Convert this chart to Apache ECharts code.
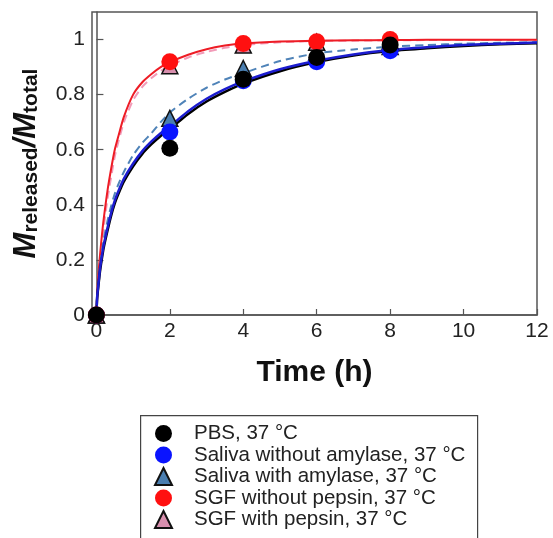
<!DOCTYPE html>
<html>
<head>
<meta charset="utf-8">
<script src="https://cdn.jsdelivr.net/npm/echarts@6/dist/echarts.min.js"></script>
<style>html,body{margin:0;padding:0;background:#fff}#c{width:553px;height:538px}</style>
</head>
<body>
<div id="c"></div>
<script>
// Measured points (time in h, fraction released)
var sampleT = [0, 2, 4, 6, 8];
var pbsPts = [0, 0.605, 0.856, 0.935, 0.98];
var salivaNoAmyPts = [0, 0.664, 0.85, 0.919, 0.959];
var salivaAmyPts = [0, 0.714, 0.895, 0.955, 0.975];
var sgfNoPepPts = [0, 0.919, 0.986, 0.992, 1.0];
var sgfPepPts = [0, 0.905, 0.98, 0.99, 0.995];

// Fitted curves
var curveT = [0, 0.02, 0.05, 0.1, 0.15, 0.2, 0.3, 0.4, 0.5, 0.6, 0.75, 1, 1.25, 1.5, 1.75, 2, 2.5, 3, 3.5, 4, 5, 6, 7, 8, 9, 10, 11, 12];
var pbsCurve = [0, 0.06, 0.10, 0.16, 0.205, 0.245, 0.305, 0.36, 0.405, 0.44, 0.485, 0.54, 0.585, 0.62, 0.65, 0.675, 0.73, 0.775, 0.81, 0.84, 0.885, 0.918, 0.942, 0.958, 0.968, 0.977, 0.983, 0.987];
var salivaNoAmyCurve = [0, 0.065, 0.105, 0.17, 0.215, 0.255, 0.315, 0.37, 0.415, 0.45, 0.495, 0.55, 0.595, 0.63, 0.66, 0.685, 0.74, 0.785, 0.82, 0.848, 0.892, 0.923, 0.946, 0.962, 0.972, 0.98, 0.985, 0.989];
var salivaAmyCurve = [0, 0.07, 0.11, 0.18, 0.23, 0.275, 0.34, 0.395, 0.44, 0.475, 0.52, 0.58, 0.625, 0.66, 0.70, 0.735, 0.785, 0.825, 0.855, 0.878, 0.922, 0.95, 0.964, 0.974, 0.98, 0.985, 0.988, 0.99];
var sgfNoPepCurve = [0, 0.07, 0.14, 0.22, 0.29, 0.35, 0.45, 0.53, 0.60, 0.65, 0.72, 0.80, 0.845, 0.875, 0.90, 0.918, 0.945, 0.965, 0.978, 0.986, 0.993, 0.996, 0.997, 0.998, 0.999, 0.999, 0.999, 0.999];
var sgfPepCurve = [0, 0.06, 0.12, 0.19, 0.26, 0.32, 0.42, 0.50, 0.575, 0.63, 0.70, 0.78, 0.828, 0.86, 0.886, 0.905, 0.935, 0.955, 0.97, 0.98, 0.99, 0.995, 0.996, 0.997, 0.998, 0.998, 0.998, 0.998];

var xTicks = [0, 2, 4, 6, 8, 10, 12];
var yTicks = [0, 0.2, 0.4, 0.6, 0.8, 1];

var names = ['PBS, 37 °C', 'Saliva without amylase, 37 °C', 'Saliva with amylase, 37 °C', 'SGF without pepsin, 37 °C', 'SGF with pepsin, 37 °C'];

function pairs(xs, ys) { return xs.map(function (x, i) { return [x, ys[i]]; }); }

function curve(ys, color, width, dashed, z) {
  return {
    type: 'line', data: pairs(curveT, ys), smooth: 0.25, showSymbol: false, symbol: 'none',
    lineStyle: { color: color, width: width, type: dashed ? [8, 5] : 'solid' }, z: z, silent: true
  };
}
function pts(name, ys, symbol, fill, border, size, z) {
  return {
    type: 'scatter', name: name, data: pairs(sampleT, ys), symbol: symbol, symbolSize: size,
    itemStyle: { color: fill, borderColor: border, borderWidth: border ? 1.5 : 0, opacity: 1 }, z: z
  };
}

var FONT = 'Liberation Sans, Arial, sans-serif';
var chart = echarts.init(document.getElementById('c'), null, { renderer: 'canvas' });
chart.setOption({
  animation: false,
  backgroundColor: '#fff',
  graphic: [{
    type: 'rect', left: 140, top: 415, shape: { width: 337, height: 140 },
    style: { fill: '#fff', stroke: '#444', lineWidth: 1.2 }, z: 0
  }],
  grid: { left: 92, right: 16, top: 12, bottom: 223, show: true, borderColor: '#555', borderWidth: 1.5, backgroundColor: 'transparent' },
  xAxis: {
    type: 'value', min: -0.12, max: 12,
    axisLine: { show: true, lineStyle: { color: '#555', width: 1.5 } },
    axisTick: { show: true, inside: true, length: 6, customValues: xTicks, lineStyle: { color: '#555', width: 1.2 } },
    axisLabel: { customValues: xTicks, margin: 6, fontSize: 21, color: '#222', fontFamily: FONT },
    splitLine: { show: false },
    name: 'Time (h)', nameLocation: 'middle', nameGap: 43,
    nameTextStyle: { fontSize: 30, fontWeight: 'bold', color: '#111', fontFamily: FONT }
  },
  yAxis: {
    type: 'value', min: 0, max: 1.1,
    axisLine: { show: true, lineStyle: { color: '#555', width: 1.5 } },
    axisTick: { show: true, inside: true, length: 7, customValues: yTicks, lineStyle: { color: '#555', width: 1.2 } },
    axisLabel: { customValues: yTicks, margin: 7, fontSize: 21, color: '#222', fontFamily: FONT },
    splitLine: { show: false },
    name: '{m|M}{s|released}{m|/M}{s|total}', nameLocation: 'middle', nameGap: 50,
    nameTextStyle: {
      fontFamily: FONT, color: '#111',
      rich: {
        m: { fontSize: 31, fontWeight: 'bold', fontStyle: 'italic', color: '#111', fontFamily: FONT, lineHeight: 32, verticalAlign: 'bottom' },
        s: { fontSize: 21, fontWeight: 'bold', color: '#111', fontFamily: FONT, lineHeight: 12, verticalAlign: 'bottom' }
      }
    }
  },
  legend: {
    data: names, orient: 'vertical', left: 154, top: 423,
    padding: 0, itemGap: 0.5, itemWidth: 17, itemHeight: 17,
    textStyle: { fontSize: 20.5, color: '#222', fontFamily: FONT, lineHeight: 20.5, padding: [0, 0, 0, 17] }
  },
  series: [
    curve(sgfPepCurve, '#f29bb8', 2, true, 2),
    curve(sgfNoPepCurve, '#ee1c25', 2, false, 2),
    curve(salivaAmyCurve, '#4f83b8', 2, true, 2),
    curve(pbsCurve, '#000000', 2.5, false, 2),
    curve(salivaNoAmyCurve, '#1c1ccf', 2.5, false, 2),
    pts(names[2], salivaAmyPts, 'triangle', '#4a7eb0', '#111', 16, 3),
    pts(names[4], sgfPepPts, 'triangle', '#d88fae', '#111', 16, 3),
    pts(names[1], salivaNoAmyPts, 'circle', '#0a14ff', null, 17, 4),
    pts(names[3], sgfNoPepPts, 'circle', '#ff1010', null, 17, 4),
    pts(names[0], pbsPts, 'circle', '#000000', null, 17, 4)
  ]
});
</script>
</body>
</html>
